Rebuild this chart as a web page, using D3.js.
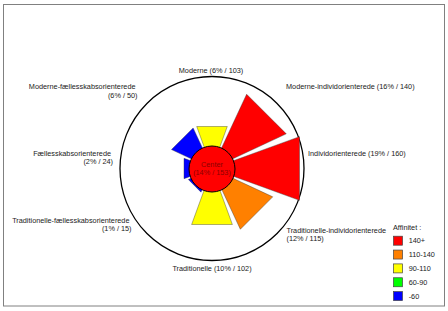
<!DOCTYPE html>
<html>
<head>
<meta charset="utf-8">
<script src="https://cdn.jsdelivr.net/npm/d3@7/dist/d3.min.js"></script>
<style>
  html, body { margin: 0; padding: 0; background: #fff; }
  svg { display: block; }
  text { font-family: "Liberation Sans", Arial, sans-serif; font-size: 7.3px; fill: #222; }
</style>
</head>
<body>
<svg id="chart" width="448" height="311"></svg>
<script>
// ---- data ----
const segments = [
  "Moderne",
  "Moderne-individorienterede",
  "Individorienterede",
  "Traditionelle-individorienterede",
  "Traditionelle",
  "Traditionelle-fællesskabsorienterede",
  "Fællesskabsorienterede",
  "Moderne-fællesskabsorienterede"
];
const shares   = [6, 16, 19, 12, 10, 1, 2, 6];          // % of population
const affinity = [103, 140, 160, 115, 102, 15, 24, 50];  // affinity index
const centerName = "Center";
const centerShare = 14;
const centerAffinity = 153;
const legendTitle = "Affinitet :";
const legendLabels = ["140+", "110-140", "90-110", "60-90", "-60"];
const affinityBreaks = [60, 90, 110, 140];

// ---- layout ----
const svg = d3.select("#chart");
const cx = 212, cy = 168.5, R = 92, rCenter = 23;
const half = 20 * Math.PI / 180;

const palette = ["#0000ff", "#00ff00", "#ffff00", "#ff8000", "#ff0000"];
const color = d3.scaleThreshold().domain(affinityBreaks).range(palette);
const rScale = d3.scaleLinear().domain([0, 20]).range([21, 91]);
const aScale = d3.scaleLinear().domain([0, segments.length]).range([0, 2 * Math.PI]);

function polar(d, a) { return [cx + d * Math.sin(a), cy - d * Math.cos(a)]; }

// frame
svg.append("rect").attr("x", 3.5).attr("y", 4.5).attr("width", 441).attr("height", 301.5)
  .attr("fill", "none").attr("stroke", "#808080").attr("stroke-width", 1);

// outer circle
svg.append("circle").attr("cx", cx).attr("cy", cy).attr("r", R)
  .attr("fill", "#fff").attr("stroke", "#000").attr("stroke-width", 1.3);

// wedges
const data = segments.map((s, i) => ({ name: s, share: shares[i], aff: affinity[i], i }));
svg.append("g").selectAll("polygon").data(data).join("polygon")
  .attr("points", d => {
    const a = aScale(d.i);
    const dd = rScale(d.share) / Math.cos(half);
    return [[cx, cy], polar(dd, a - half), polar(dd, a + half)].map(p => p.join(",")).join(" ");
  })
  .attr("fill", d => color(d.aff))
  .attr("stroke", "#333").attr("stroke-width", 0.4).attr("stroke-linejoin", "miter");

// center circle
svg.append("circle").attr("cx", cx).attr("cy", cy + 0.5).attr("r", rCenter)
  .attr("fill", color(centerAffinity)).attr("stroke", "#000").attr("stroke-width", 1);
const ct = svg.append("text").attr("text-anchor", "middle").style("fill", "#8b0000");
ct.append("tspan").attr("x", cx).attr("y", cy - 4.2).attr("dy", "0.35em").text(centerName);
ct.append("tspan").attr("x", cx).attr("y", cy + 4.2).attr("dy", "0.35em")
  .text(`(${centerShare}% / ${centerAffinity})`);

// segment labels (placement per direction)
const labelLayout = [
  { dx: -1,    dy: -97.8, anchor: "middle", two: false },
  { dx: 74,    dy: -81.8, anchor: "start",  two: false },
  { dx: 96,    dy: -15.5, anchor: "start",  two: false },
  { dx: 74.5,  dy: 61.5,  anchor: "start",  two: true },
  { dx: 0,     dy: 99.5,  anchor: "middle", two: false },
  { dx: -82.5, dy: 51.5,  anchor: "end",    two: true },
  { dx: -101,  dy: -15.5, anchor: "end",    two: true },
  { dx: -76.5, dy: -81.8, anchor: "end",    two: true }
];
const lg = svg.append("g");
data.forEach(d => {
  const L = labelLayout[d.i];
  const x = cx + L.dx, y = cy + L.dy;
  const val = `(${d.share}% / ${d.aff})`;
  const t = lg.append("text").attr("text-anchor", L.anchor);
  if (L.two) {
    t.append("tspan").attr("x", x).attr("y", y).attr("dy", "0.35em").text(d.name);
    t.append("tspan").attr("x", x + (L.anchor === "end" ? 2 : 0)).attr("y", y + 8.8).attr("dy", "0.35em").text(val);
  } else {
    t.append("tspan").attr("x", x).attr("y", y).attr("dy", "0.35em").text(d.name + " " + val);
  }
});

// legend
const leg = svg.append("g").attr("transform", "translate(393,227.7)");
leg.append("text").attr("x", 0).attr("y", 0).attr("dy", "0.35em").text(legendTitle);
const rows = leg.selectAll("g.row").data(legendLabels).join("g")
  .attr("transform", (d, i) => `translate(0,${13 + i * 13.85})`);
rows.append("rect").attr("x", 0.5).attr("y", -4.5).attr("width", 9).attr("height", 9)
  .attr("fill", (d, i) => palette[palette.length - 1 - i])
  .attr("stroke", "#444").attr("stroke-width", 0.7);
rows.append("text").attr("x", 15.7).attr("y", 0).attr("dy", "0.35em").text(d => d);
</script>
</body>
</html>
